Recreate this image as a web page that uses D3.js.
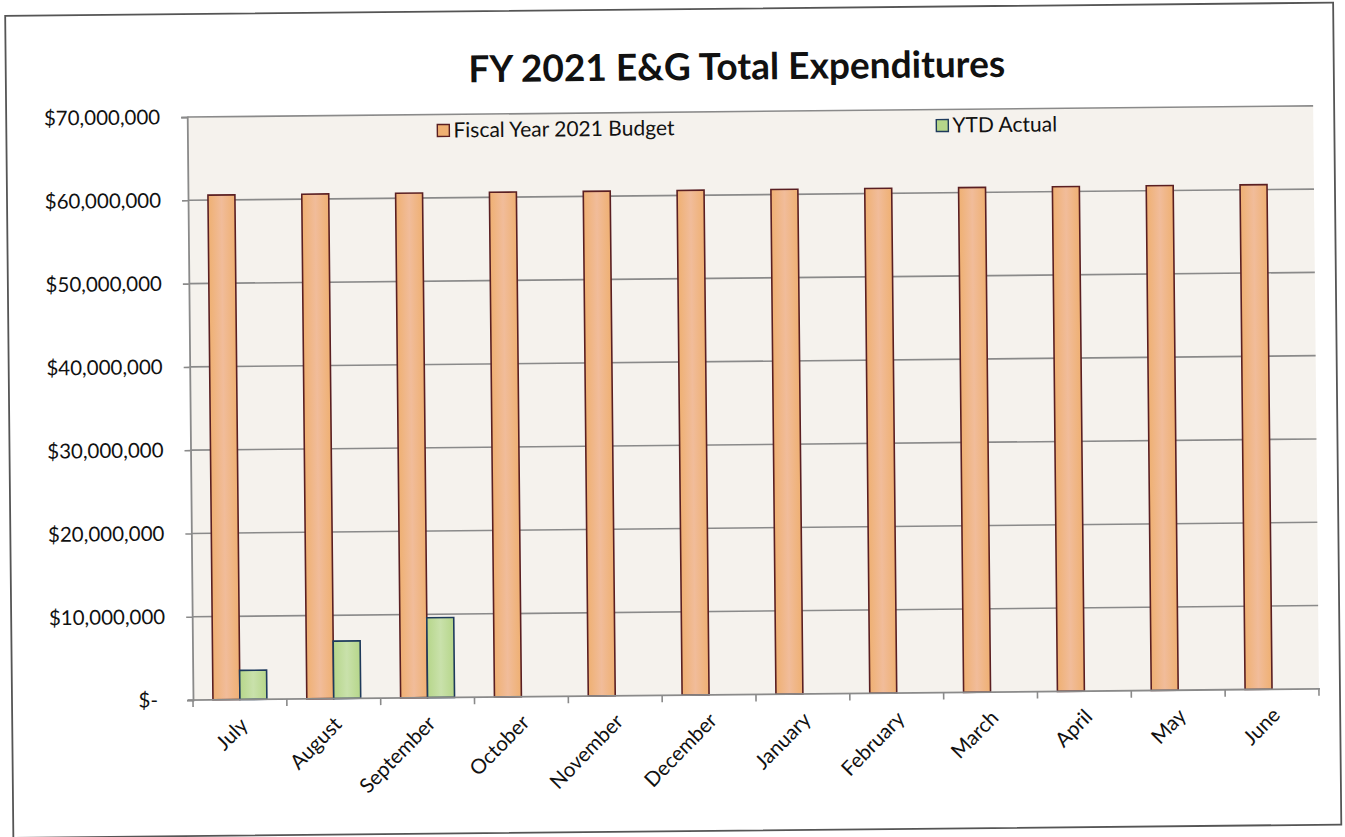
<!DOCTYPE html>
<html>
<head>
<meta charset="utf-8">
<script src="https://cdn.jsdelivr.net/npm/d3@7"></script>
<style>
  html, body { margin: 0; padding: 0; background: #ffffff; }
  svg { display: block; }
</style>
</head>
<body>
<svg id="chart" width="1345" height="837"></svg>
<script>
// ---- data ----
const categories = ["July", "August", "September", "October", "November", "December",
                    "January", "February", "March", "April", "May", "June"];
const budgetValues = [60600000, 60600000, 60600000, 60600000, 60600000, 60600000,
                      60600000, 60600000, 60600000, 60600000, 60600000, 60600000];
const ytdValues = [3500000, 6900000, 9600000, null, null, null, null, null, null, null, null, null];
const yTickValues = [0, 10000000, 20000000, 30000000, 40000000, 50000000, 60000000, 70000000];
const yTickLabels = ["$-", "$10,000,000", "$20,000,000", "$30,000,000", "$40,000,000",
                     "$50,000,000", "$60,000,000", "$70,000,000"];
const seriesNames = ["Fiscal Year 2021 Budget", "YTD Actual"];
const titleText = "FY 2021 E&G Total Expenditures";

// ---- layout ----
const W = 1345, H = 837;
const plot = { left: 193, right: 1319, top: 117, bottom: 700 };
const FONT = "Lato, 'Open Sans', sans-serif";
const LABEL_SIZE = 20.5;

const svg = d3.select("#chart");
const defs = svg.append("defs");

function barGradient(id, edge, mid) {
  const g = defs.append("linearGradient").attr("id", id)
    .attr("x1", "0%").attr("x2", "100%").attr("y1", "0%").attr("y2", "0%");
  g.append("stop").attr("offset", "0%").attr("stop-color", edge);
  g.append("stop").attr("offset", "50%").attr("stop-color", mid);
  g.append("stop").attr("offset", "100%").attr("stop-color", edge);
}
barGradient("gBudget", "#efb072", "#f1bc9a");
barGradient("gYtd", "#b6d68a", "#c9e1ab");

// whole scan is slightly rotated
const root = svg.append("g").attr("transform", `rotate(-0.57, ${plot.left}, ${plot.bottom})`);

// outer frame
root.append("rect")
  .attr("x", 12).attr("y", 14).attr("width", 1328).attr("height", 822)
  .attr("fill", "#ffffff").attr("stroke", "#555555").attr("stroke-width", 1.8);

// scales
const x0 = d3.scaleBand().domain(categories)
  .range([plot.left, plot.right]).paddingInner(0.4255).paddingOuter(0.2128);
const x1 = d3.scaleBand().domain(seriesNames).range([0, x0.bandwidth()]).padding(0);
const y = d3.scaleLinear().domain([0, 70000000]).range([plot.bottom, plot.top]);

// plot background
root.append("rect")
  .attr("x", plot.left).attr("y", plot.top)
  .attr("width", plot.right - plot.left).attr("height", plot.bottom - plot.top)
  .attr("fill", "#f5f2ed");

// gridlines
root.append("g").selectAll("line")
  .data(yTickValues.filter(v => v > 0))
  .join("line")
  .attr("x1", plot.left).attr("x2", plot.right)
  .attr("y1", d => y(d)).attr("y2", d => y(d))
  .attr("stroke", "#8a8a8a").attr("stroke-width", 1.6);

// y axis
const yAxis = root.append("g")
  .attr("transform", `translate(${plot.left},0)`)
  .call(d3.axisLeft(y).tickValues(yTickValues)
    .tickFormat((d, i) => yTickLabels[i]).tickSize(6).tickPadding(21));
yAxis.select(".domain").attr("stroke", "#8a8a8a").attr("stroke-width", 1.8);
yAxis.selectAll(".tick line").attr("stroke", "#8a8a8a").attr("stroke-width", 1.6);
yAxis.selectAll(".tick text")
  .attr("font-family", FONT).attr("font-size", LABEL_SIZE).attr("fill", "#111")
  .attr("dx", (d) => d === 0 ? -8 : 0);

// bars
const groups = root.append("g").selectAll("g")
  .data(categories)
  .join("g")
  .attr("transform", d => `translate(${x0(d)},0)`);

groups.append("rect")
  .attr("x", x1(seriesNames[0]))
  .attr("width", x1.bandwidth())
  .attr("y", (d, i) => y(budgetValues[i]))
  .attr("height", (d, i) => y(0) - y(budgetValues[i]))
  .attr("fill", "url(#gBudget)").attr("stroke", "#5a1f22").attr("stroke-width", 1.6);

groups.filter((d, i) => ytdValues[i] != null).append("rect")
  .attr("x", x1(seriesNames[1]))
  .attr("width", x1.bandwidth())
  .attr("y", d => y(ytdValues[categories.indexOf(d)]))
  .attr("height", d => y(0) - y(ytdValues[categories.indexOf(d)]))
  .attr("fill", "url(#gYtd)").attr("stroke", "#1e3a5c").attr("stroke-width", 1.6);

// x axis
const step = x0.step();
const boundaries = d3.range(categories.length + 1).map(i => plot.left + i * step);
root.append("line")
  .attr("x1", plot.left - 5).attr("x2", plot.right + 1)
  .attr("y1", plot.bottom).attr("y2", plot.bottom)
  .attr("stroke", "#8a8a8a").attr("stroke-width", 1.8);
root.append("g").selectAll("line")
  .data(boundaries)
  .join("line")
  .attr("x1", d => d).attr("x2", d => d)
  .attr("y1", plot.bottom).attr("y2", plot.bottom + 7)
  .attr("stroke", "#8a8a8a").attr("stroke-width", 1.6);

root.append("g").selectAll("text")
  .data(categories)
  .join("text")
  .attr("transform", d => `translate(${x0(d) + x0.bandwidth() / 2 + 9},${plot.bottom + 27}) rotate(-45)`)
  .attr("text-anchor", "end")
  .attr("font-family", FONT).attr("font-size", LABEL_SIZE).attr("fill", "#111")
  .text(d => d);

// title
const title = root.append("text")
  .attr("x", 743).attr("y", 85)
  .attr("text-anchor", "middle")
  .attr("font-family", FONT).attr("font-weight", "bold").attr("font-size", 37)
  .attr("fill", "#111")
  .text(titleText);
(function fit() {
  const w = title.node().getComputedTextLength();
  title.attr("font-size", 37 * 537 / w);
})();

// legend
const legendPos = [[443, 133], [942, 133]];
const legendFill = ["#efb072", "#b6d68a"];
const legendStroke = ["#5a1f22", "#1e3a5c"];
const leg = root.append("g").selectAll("g")
  .data(seriesNames)
  .join("g")
  .attr("transform", (d, i) => `translate(${legendPos[i][0]},${legendPos[i][1]})`);
leg.append("rect")
  .attr("x", 0).attr("y", -6).attr("width", 12).attr("height", 12)
  .attr("fill", (d, i) => legendFill[i]).attr("stroke", (d, i) => legendStroke[i]).attr("stroke-width", 1.4);
leg.append("text")
  .attr("x", 16).attr("y", 7)
  .attr("font-family", FONT).attr("font-size", 21).attr("fill", "#111")
  .text(d => d);
</script>
</body>
</html>
